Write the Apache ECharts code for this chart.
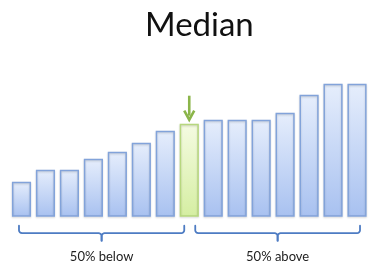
<!DOCTYPE html>
<html>
<head>
<meta charset="utf-8">
<script src="https://cdn.jsdelivr.net/npm/echarts@6/dist/echarts.min.js"></script>
<style>
  html, body { margin: 0; padding: 0; background: #fff; }
  #chart { width: 378px; height: 272px; }
</style>
</head>
<body>
<div id="chart"></div>
<script>
// Sorted observations; the middle one (index 7) is the median.
const categories = ['1','2','3','4','5','6','7','8','9','10','11','12','13','14','15'];
const values = [3.5, 4.7, 4.7, 5.8, 6.5, 7.4, 8.6, 9.3, 9.7, 9.7, 9.7, 10.4, 12.2, 13.3, 13.3];
const medianIndex = 7;
const groupLabels = ['50% below', '50% above'];

const blueFill = new echarts.graphic.LinearGradient(0, 0, 0, 1, [
  { offset: 0, color: '#E6EEFC' },
  { offset: 1, color: '#A8C1F0' }
]);
const greenFill = new echarts.graphic.LinearGradient(0, 0, 0, 1, [
  { offset: 0, color: '#F5FBE2' },
  { offset: 1, color: '#D5EEA2' }
]);

const barData = values.map((v, i) => ({
  value: v,
  itemStyle: i === medianIndex
    ? { color: greenFill, borderColor: '#B7D77E', borderWidth: 1.5 }
    : { color: blueFill, borderColor: '#82A3DA', borderWidth: 1.5 }
}));

const chart = echarts.init(document.getElementById('chart'), null, { renderer: 'canvas' });

chart.setOption({
  animation: false,
  title: {
    text: 'Median',
    left: 140,
    top: 4,
    textStyle: { fontFamily: 'Lato', fontWeight: 'normal', fontSize: 33, color: '#111' }
  },
  grid: { left: 9.5, right: 9, top: 76.7, bottom: 55.3 },
  xAxis: {
    type: 'category',
    data: categories,
    show: false
  },
  yAxis: {
    type: 'value',
    min: 0,
    max: 14,
    show: false
  },
  series: [{
    type: 'bar',
    data: barData,
    barCategoryGap: '20%',
    itemStyle: { shadowColor: 'rgba(0,0,0,0.18)', shadowBlur: 2, shadowOffsetY: 1 }
  }]
});

// Annotations placed from the axes' own pixel mapping.
function px(i, v) { return chart.convertToPixel({ seriesIndex: 0 }, [i, v]); }

const braceColor = '#4E7CC3';
const last = values.length - 1;
const baseY = px(0, 0)[1];
const braceTop = baseY + 9;
const braceMid = baseY + 16.5;
const braceTick = baseY + 24;

// Quarter-circle points from angle a0 to a1 around (cx, cy).
function arcPts(cx, cy, r, a0, a1) {
  const pts = [];
  for (let k = 0; k <= 4; k++) {
    const a = a0 + (a1 - a0) * k / 4;
    pts.push([cx + r * Math.cos(a), cy + r * Math.sin(a)]);
  }
  return pts;
}

function brace(x1, x2) {
  const cx = (x1 + x2) / 2;
  const r = 3;
  const H = Math.PI / 2;
  const style = { fill: null, stroke: braceColor, lineWidth: 1.8, lineJoin: 'round', lineCap: 'round' };
  const leftHalf = [[x1, braceTop]]
    .concat(arcPts(x1 + r, braceMid - r, r, Math.PI, H))
    .concat(arcPts(cx - r, braceMid + r, r, -H, 0))
    .concat([[cx, braceTick]]);
  const rightHalf = [[x2, braceTop]]
    .concat(arcPts(x2 - r, braceMid - r, r, 0, H))
    .concat(arcPts(cx + r, braceMid + r, r, -H, -Math.PI))
    .concat([[cx, braceTick]]);
  return [
    { type: 'polyline', shape: { points: leftHalf }, style: style },
    { type: 'polyline', shape: { points: rightHalf }, style: style }
  ];
}

function groupText(x, text) {
  return {
    type: 'text',
    x: x,
    y: baseY + 40,
    style: {
      text: text,
      fill: '#222',
      font: '13px Lato',
      align: 'center',
      verticalAlign: 'middle'
    }
  };
}

const c0 = px(0, 0)[0];
const cm = px(medianIndex, 0)[0];
const cl = px(last, 0)[0];
const leftX1 = c0 - 2.5, leftX2 = cm - 5;
const rightX1 = cm + 6, rightX2 = cl + 3;

const medTop = px(medianIndex, values[medianIndex]);
const arrowTip = medTop[1] - 4;
const arrowColor = '#8BB54A';

chart.setOption({
  graphic: []
    .concat(brace(leftX1, leftX2))
    .concat(brace(rightX1, rightX2))
    .concat([
      groupText((leftX1 + leftX2) / 2, groupLabels[0]),
      groupText((rightX1 + rightX2) / 2, groupLabels[1]),
      {
        type: 'line',
        shape: { x1: medTop[0], y1: arrowTip - 24, x2: medTop[0], y2: arrowTip - 4 },
        style: { stroke: arrowColor, lineWidth: 2.6 }
      },
      {
        type: 'polyline',
        shape: { points: [[medTop[0] - 5, arrowTip - 9], [medTop[0], arrowTip], [medTop[0] + 5, arrowTip - 9]] },
        style: { stroke: arrowColor, lineWidth: 2.6, fill: null, lineJoin: 'miter' }
      }
    ])
});
</script>
</body>
</html>
